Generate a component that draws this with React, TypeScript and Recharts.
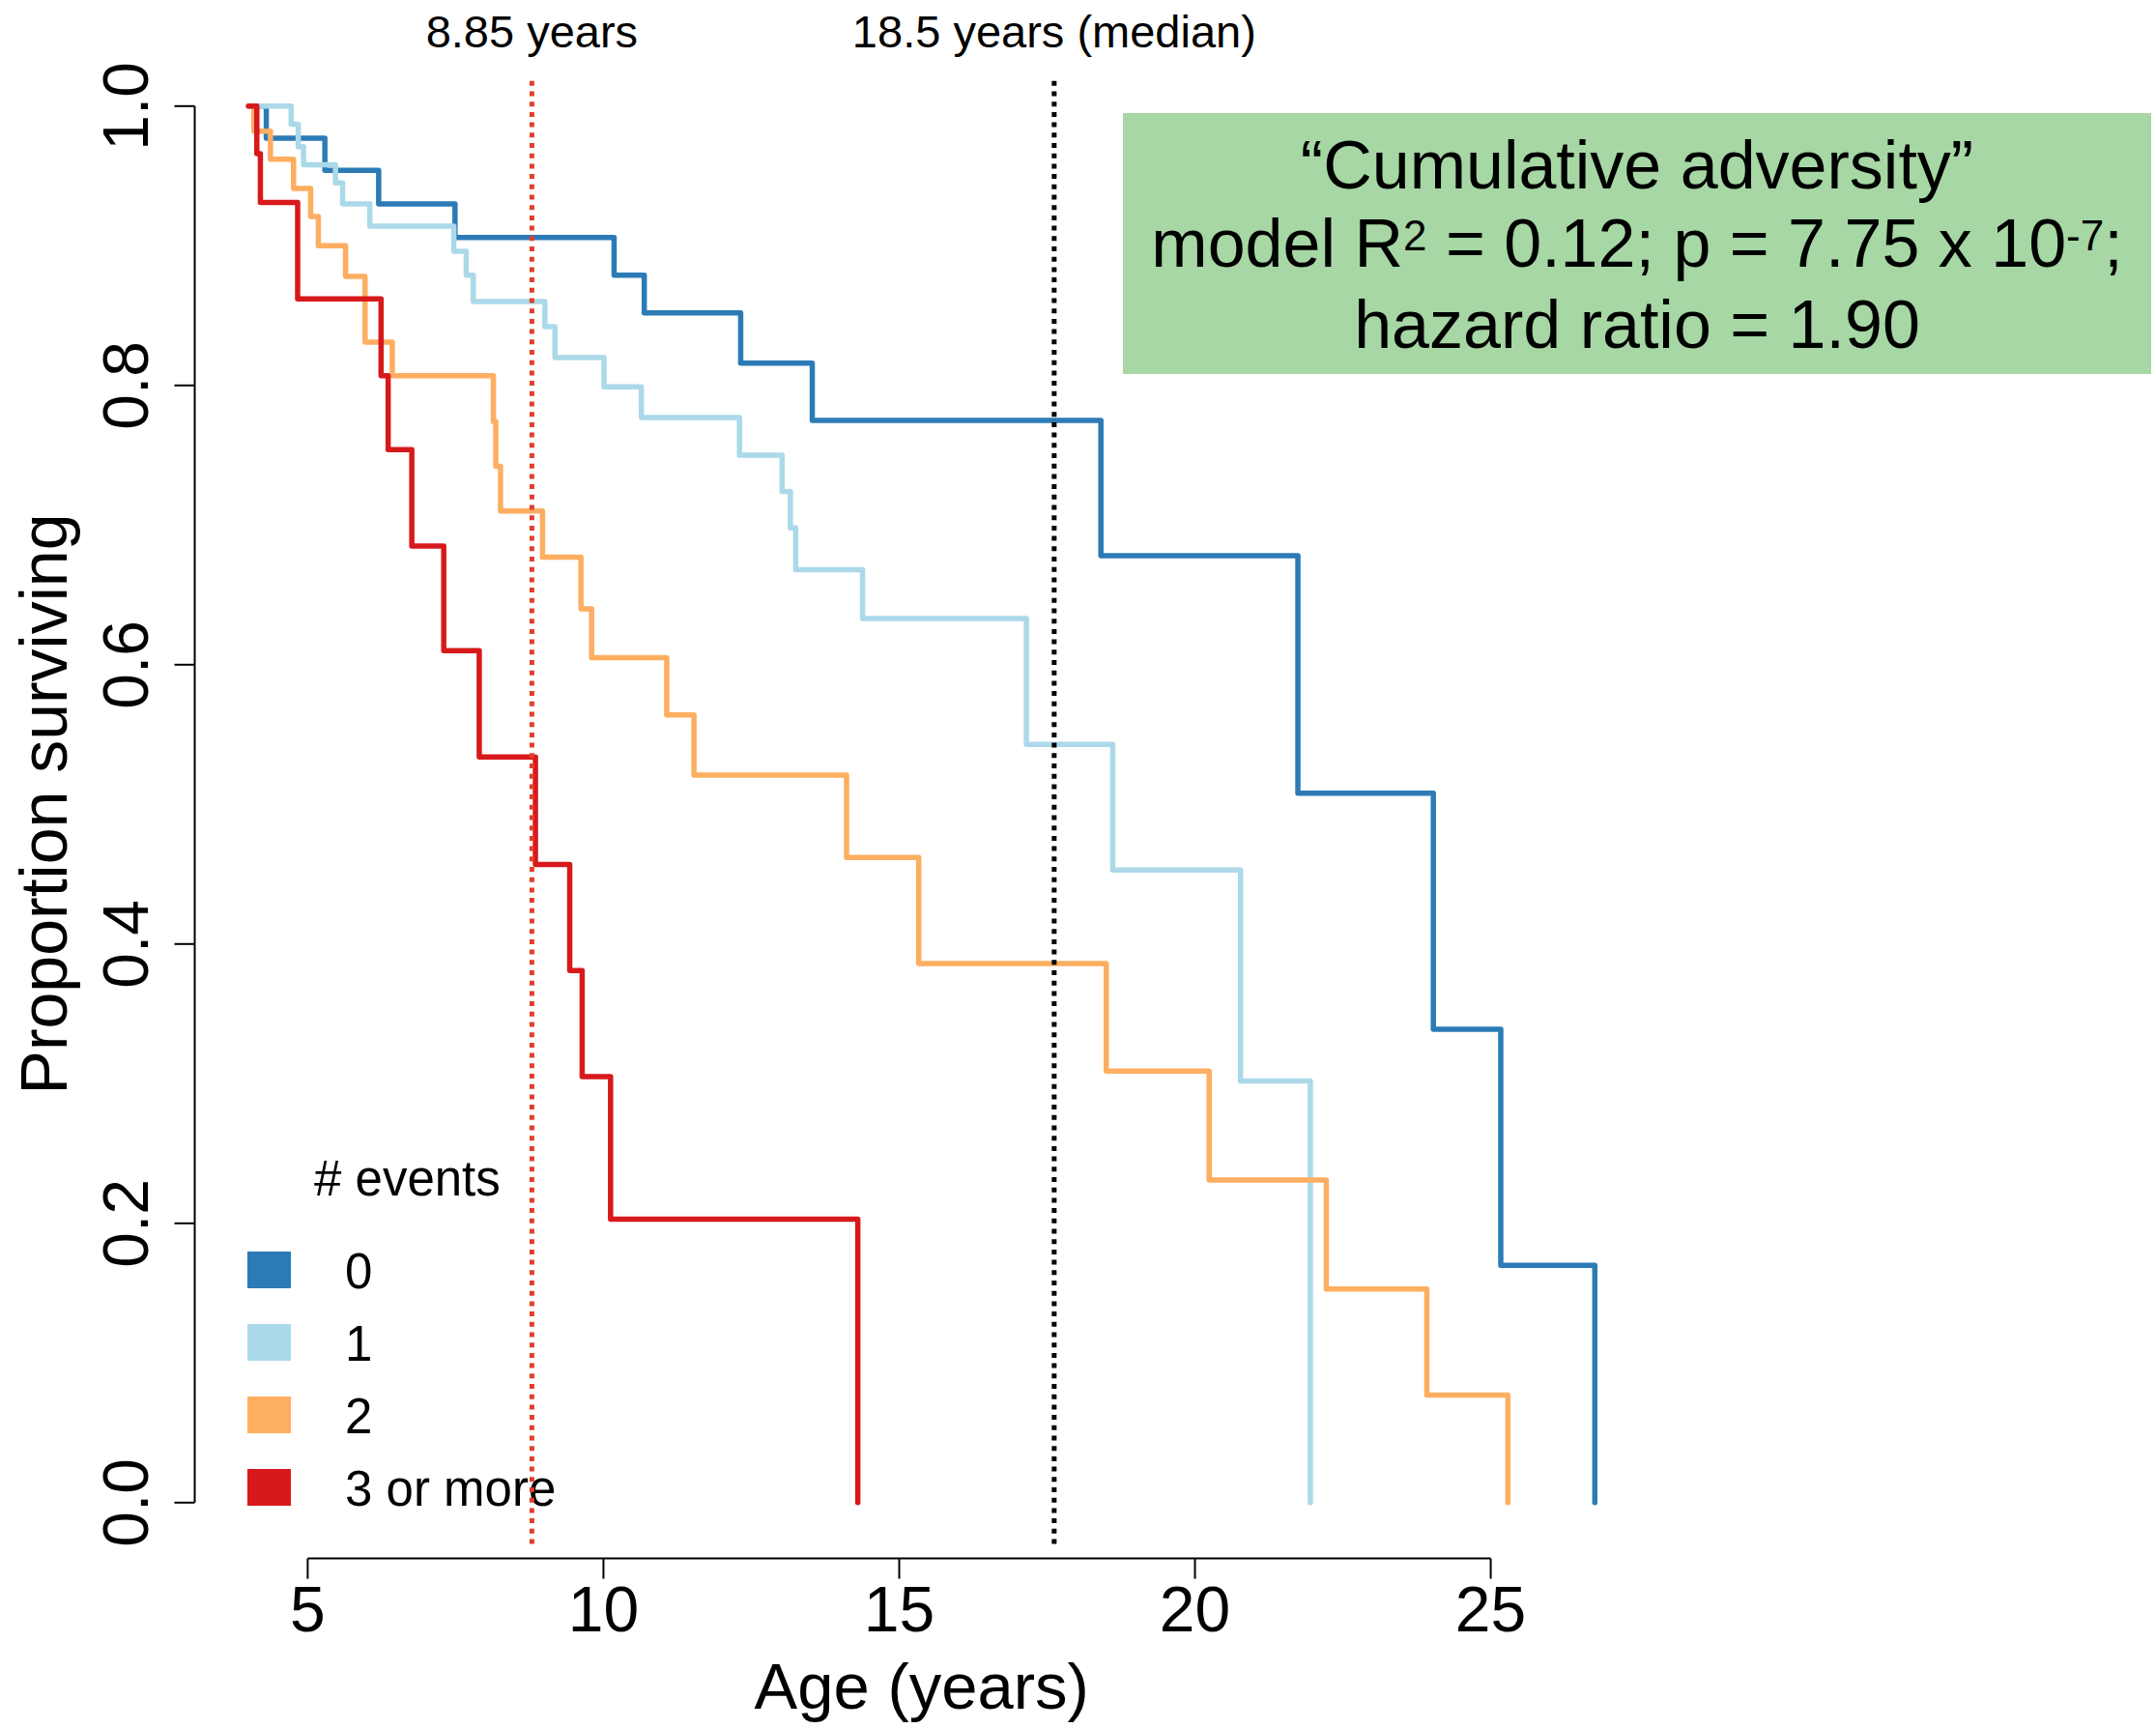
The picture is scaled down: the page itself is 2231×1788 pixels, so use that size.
import React from "react";
import { ComposedChart, Customized, Line, ReferenceLine, XAxis, YAxis } from "recharts";

const FONT = '"Liberation Sans", Arial, Helvetica, sans-serif';

// groups: number of adversity events
const groupNames = ["0", "1", "2", "3 or more"];
const groupColors = ["#2c7bb6", "#abd9e9", "#fdae61", "#d7191c"];

const ageTicks = [5, 10, 15, 20, 25];
const survivalTicks = [0, 0.2, 0.4, 0.6, 0.8, 1.0];

// Kaplan-Meier steps (age in years, proportion surviving)
const ages0 = [4.0, 4.3, 5.29, 6.2, 7.49, 10.18, 10.69, 12.32, 13.53, 18.41, 21.74, 24.03, 25.17, 26.76];
const surv0 = [1.0, 0.977, 0.954, 0.93, 0.906, 0.879, 0.852, 0.816, 0.775, 0.678, 0.508, 0.339, 0.17, 0];

const ages1 = [4.0, 4.72, 4.84, 4.93, 5.47, 5.59, 6.05, 7.47, 7.68, 7.8, 9.01, 9.18, 10.01, 10.64, 12.3, 13.02, 13.16, 13.25, 14.38, 17.15, 18.61, 20.77, 21.95];
const surv1 = [1.0, 0.987, 0.971, 0.958, 0.945, 0.93, 0.914, 0.896, 0.879, 0.86, 0.842, 0.82, 0.799, 0.777, 0.75, 0.724, 0.698, 0.668, 0.633, 0.543, 0.453, 0.302, 0];

const ages2 = [4.0, 4.09, 4.37, 4.76, 5.05, 5.18, 5.64, 5.97, 6.43, 8.14, 8.18, 8.26, 8.97, 9.62, 9.8, 11.07, 11.53, 14.11, 15.33, 18.5, 20.24, 22.22, 23.92, 25.29];
const surv2 = [1.0, 0.982, 0.962, 0.941, 0.921, 0.9, 0.878, 0.831, 0.807, 0.774, 0.742, 0.71, 0.677, 0.64, 0.605, 0.564, 0.521, 0.462, 0.386, 0.309, 0.231, 0.153, 0.077, 0];

const ages3 = [4.0, 4.14, 4.2, 4.83, 6.24, 6.36, 6.76, 7.3, 7.9, 8.85, 9.43, 9.64, 10.12, 14.3];
const surv3 = [1.0, 0.966, 0.931, 0.862, 0.807, 0.754, 0.685, 0.61, 0.534, 0.457, 0.381, 0.305, 0.203, 0];

// vertical marker lines
const markerAges = [8.79, 17.62];
const markerLabels = ["8.85 years", "18.5 years (median)"];
const markerColors = ["#df3f2c", "#000000"];
const markerTop = 1.018;
const markerBottom = -0.032;

const xDomain: [number, number] = [3.09, 27.67];
const yDomain: [number, number] = [-0.04, 1.04];

const toSteps = (ages: number[], surv: number[]) => ages.map((age, i) => ({ age, surv: surv[i] }));
const series = [toSteps(ages0, surv0), toSteps(ages1, surv1), toSteps(ages2, surv2), toSteps(ages3, surv3)];

const YTick = ({ x, y, payload }: any) => (
  <text
    transform={`translate(${x - 25.5}, ${y}) rotate(-90)`}
    textAnchor="middle"
    fontSize={66}
    fontFamily={FONT}
    fill="#000"
  >
    {Number(payload.value).toFixed(1)}
  </text>
);

const Decorations = () => (
  <g fontFamily={FONT} fill="#000">
    <text transform="translate(69, 832) rotate(-90)" textAnchor="middle" fontSize={68}>
      Proportion surviving
    </text>

    <rect x={1162} y={117} width={1064} height={270} fill="#a6d7a4" />
    <text x={1694} y={195} textAnchor="middle" fontSize={70}>
      “Cumulative adversity”
    </text>
    <text x={1694} y={276} textAnchor="middle" fontSize={70}>
      model R<tspan fontSize={44} dy={-17}>2</tspan>
      <tspan dy={17}> = 0.12; p = 7.75 x 10</tspan>
      <tspan fontSize={44} dy={-17}>-7</tspan>
      <tspan dy={17}>;</tspan>
    </text>
    <text x={1694} y={360} textAnchor="middle" fontSize={70}>
      hazard ratio = 1.90
    </text>

    <text x={325} y={1237} fontSize={51}>
      # events
    </text>
    {groupNames.map((name, i) => (
      <g key={name}>
        <rect x={256} y={1295 + i * 75} width={45} height={38} fill={groupColors[i]} />
        <text x={357} y={1333 + i * 75} fontSize={51}>
          {name}
        </text>
      </g>
    ))}
  </g>
);

export default function App() {
  return (
    <div style={{ position: "absolute", left: 0, top: 0, width: 2231, height: 1788, background: "#fff" }}>
      <ComposedChart width={2231} height={1788} margin={{ top: 52, right: 525, bottom: 0, left: 0 }}>
        <XAxis
          type="number"
          dataKey="age"
          domain={xDomain}
          allowDataOverflow
          ticks={ageTicks}
          height={175.4}
          axisLine={false}
          tickSize={21}
          tickMargin={8}
          tickLine={{ stroke: "#000", strokeWidth: 2 }}
          tick={{ fontSize: 66, fontFamily: FONT, fill: "#000" }}
          label={{ value: "Age (years)", position: "insideBottom", offset: 20, fontSize: 67, fontFamily: FONT, fill: "#000" }}
        />
        <YAxis
          type="number"
          domain={yDomain}
          allowDataOverflow
          ticks={survivalTicks}
          width={201.5}
          axisLine={false}
          tickSize={21}
          tickLine={{ stroke: "#000", strokeWidth: 2 }}
          tick={<YTick />}
        />
        <ReferenceLine
          segment={[
            { x: ageTicks[0], y: yDomain[0] },
            { x: ageTicks[ageTicks.length - 1], y: yDomain[0] },
          ]}
          stroke="#000"
          strokeWidth={2}
          ifOverflow="visible"
        />
        <ReferenceLine
          segment={[
            { x: xDomain[0], y: survivalTicks[0] },
            { x: xDomain[0], y: survivalTicks[survivalTicks.length - 1] },
          ]}
          stroke="#000"
          strokeWidth={2}
          ifOverflow="visible"
        />
        {series.map((d, i) => (
          <Line
            key={groupNames[i]}
            data={d}
            dataKey="surv"
            type="stepAfter"
            stroke={groupColors[i]}
            strokeWidth={5.5}
            strokeLinecap="round"
            strokeLinejoin="round"
            dot={false}
            activeDot={false}
            isAnimationActive={false}
          />
        ))}
        <Customized component={<Decorations />} />
        {markerAges.map((age, i) => (
          <ReferenceLine
            key={markerLabels[i]}
            segment={[
              { x: age, y: markerTop },
              { x: age, y: markerBottom },
            ]}
            stroke={markerColors[i]}
            strokeWidth={5}
            strokeDasharray="5 5.7"
            ifOverflow="visible"
            label={{ value: markerLabels[i], position: "top", offset: 35, fontSize: 47, fontFamily: FONT, fill: "#000" }}
          />
        ))}
      </ComposedChart>
    </div>
  );
}
